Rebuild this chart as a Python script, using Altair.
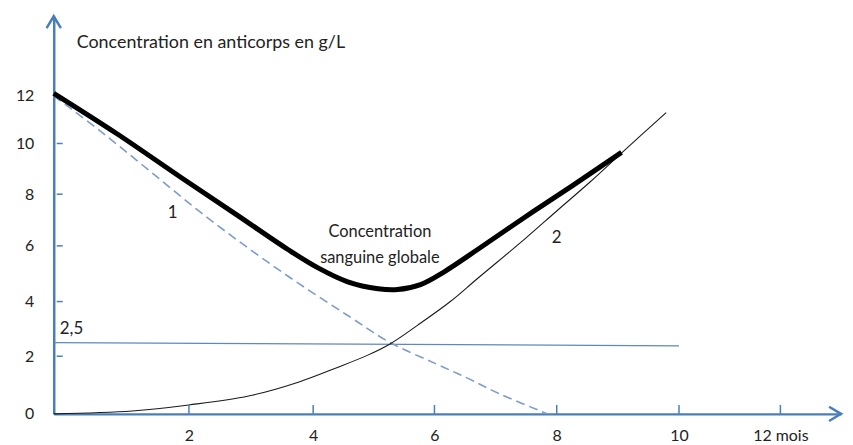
import altair as alt
import pandas as pd

# ---- data (months, g/L) ----
global_months = [0, 0.93, 1.90, 2.80, 3.60, 4.08, 4.57, 5.07, 5.39, 5.77, 6.16, 6.70, 7.46, 8.24, 9.06]
global_conc = [12.1, 10.42, 8.63, 7.15, 5.86, 5.21, 4.71, 4.46, 4.43, 4.61, 5.07, 5.86, 7.08, 8.31, 9.65]

mother_months = [0, 0.68, 1.41, 2.16, 2.96, 3.76, 4.57, 5.26, 6.0, 6.54, 7.07, 7.85]
mother_conc = [12.0, 10.54, 8.94, 7.35, 5.91, 4.66, 3.49, 2.51, 1.76, 1.24, 0.69, 0.0]

child_months = [0, 1.16, 2.0, 2.96, 3.76, 4.41, 4.90, 5.26, 5.72, 6.26, 6.70, 7.46, 8.0, 8.54, 9.09, 9.79]
child_conc = [0, 0.10, 0.31, 0.62, 1.10, 1.62, 2.04, 2.44, 3.13, 4.0, 4.82, 6.23, 7.35, 8.47, 9.69, 11.29]

threshold_months = [0, 10]
threshold_conc = [2.5, 2.38]

x_tick_values = [2, 4, 6, 8, 10, 12]
y_tick_values = [0, 2, 4, 6, 8, 10, 12]
y_tick_marks = [2, 4, 6, 8, 10]

ann_text = ["Concentration en anticorps en g/L", "1", "Concentration", "sanguine globale", "2", "2,5"]
ann_month = [0.34, 1.76, 5.10, 5.10, 8.0, 0.09]
ann_conc = [14.12, 7.27, 6.54, 5.57, 6.31, 2.98]

BLUE = "#4A7EBB"
FONT = "Lato"

# hand-drawn axes: piecewise scales matching the drawing
xs = alt.Scale(domain=[0, 2, 4, 6, 8, 10, 12, 13.2],
               range=[0, 136, 261, 383, 506, 629, 731, 792], nice=False, zero=False)
ys = alt.Scale(domain=[0, 2, 4, 6, 8, 10, 12, 15.2],
               range=[400, 342, 287, 231, 179, 128, 80, 0], nice=False, zero=False)

xaxis = alt.Axis(values=x_tick_values, title=None, grid=False, ticks=False,
                 domainColor=BLUE, domainWidth=2.5, labelPadding=14,
                 labelFont=FONT, labelFontSize=16, labelColor="#222",
                 labelExpr="datum.value == 12 ? '12 mois' : datum.label")
yaxis = alt.Axis(values=y_tick_values, title=None, grid=False, ticks=False,
                 domainColor=BLUE, domainWidth=2.5, labelPadding=20,
                 labelFont=FONT, labelFontSize=16, labelColor="#222")

X = alt.X("month:Q", scale=xs, axis=xaxis)
Y = alt.Y("conc:Q", scale=ys, axis=yaxis)


def frame(m, c):
    return pd.DataFrame({"month": m, "conc": c})


thr = alt.Chart(frame(threshold_months, threshold_conc)).mark_line(
    color="#5D89BD", strokeWidth=1.3).encode(x=X, y=Y)

mother = alt.Chart(frame(mother_months, mother_conc)).mark_line(
    color="#7D9DC7", strokeWidth=1.6, strokeDash=[9, 5], interpolate="catmull-rom").encode(x=X, y=Y)

child = alt.Chart(frame(child_months, child_conc)).mark_line(
    color="#1a1a1a", strokeWidth=1.1, interpolate="catmull-rom").encode(x=X, y=Y)

glob = alt.Chart(frame(global_months, global_conc)).mark_line(
    color="black", strokeWidth=5, interpolate="catmull-rom").encode(x=X, y=Y)

xt = alt.Chart(pd.DataFrame({"month": x_tick_values})).mark_rule(
    color=BLUE, strokeWidth=1.5).encode(x=X, y=alt.value(391), y2=alt.value(400))
yt = alt.Chart(pd.DataFrame({"conc": y_tick_marks})).mark_rule(
    color=BLUE, strokeWidth=1.5).encode(y=Y, x=alt.value(3), x2=alt.value(9))

x_arrow = alt.Chart(frame([13.2], [0])).mark_point(
    shape="M -1 -0.6 L 0 0 L -1 0.6", filled=False, stroke=BLUE, strokeWidth=2.5,
    size=576, opacity=1).encode(x=X, y=Y)
y_arrow = alt.Chart(frame([0], [15.2])).mark_point(
    shape="M -0.6 1 L 0 0 L 0.6 1", filled=False, stroke=BLUE, strokeWidth=2.5,
    size=576, opacity=1).encode(x=X, y=Y)

ann = pd.DataFrame({"month": ann_month, "conc": ann_conc, "text": ann_text})

title_txt = alt.Chart(ann.iloc[[0]]).mark_text(
    align="left", baseline="middle", font=FONT, fontSize=18, color="#222").encode(x=X, y=Y, text="text:N")
small_txt = alt.Chart(ann.iloc[[1, 4]]).mark_text(
    align="center", baseline="middle", font=FONT, fontSize=17, color="#222").encode(x=X, y=Y, text="text:N")
mid_txt = alt.Chart(ann.iloc[[2, 3]]).mark_text(
    align="center", baseline="middle", font=FONT, fontSize=16.5, color="#222").encode(x=X, y=Y, text="text:N")
thr_txt = alt.Chart(ann.iloc[[5]]).mark_text(
    align="left", baseline="middle", font=FONT, fontSize=17, color="#222").encode(x=X, y=Y, text="text:N")

chart = alt.layer(thr, mother, child, glob, xt, yt, x_arrow, y_arrow,
                  title_txt, small_txt, mid_txt, thr_txt).properties(
    width=792, height=400,
    autosize=alt.AutoSizeParams(type="none"),
    padding={"left": 46, "top": 7, "right": 4, "bottom": 28},
).configure_view(stroke=None)

chart.save("out.html", embed_options={"renderer": "svg", "actions": False})
